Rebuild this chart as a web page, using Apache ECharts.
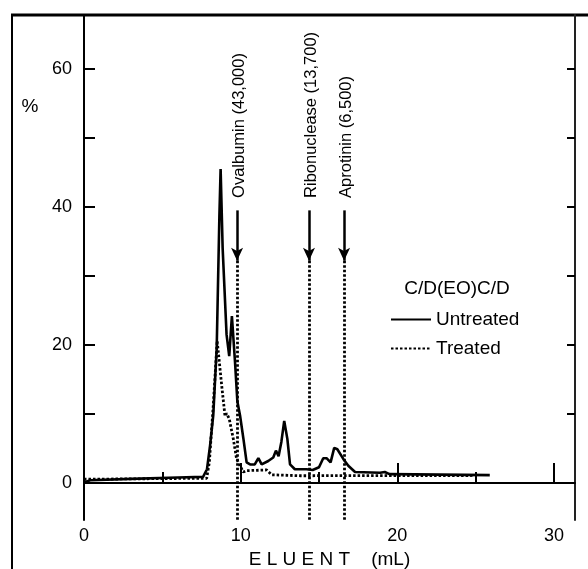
<!DOCTYPE html>
<html>
<head>
<meta charset="utf-8">
<script src="https://cdn.jsdelivr.net/npm/echarts/dist/echarts.min.js"></script>
<style>
  html, body { margin: 0; padding: 0; background: #fff; }
  #elution { width: 588px; height: 569px; }
</style>
</head>
<body>
<div id="elution"></div>
<script>
// 洗脱曲线数据 [mL, %]
var untreated = [
  [0, 0.1], [0.4, 0.4], [3, 0.6], [6, 0.8], [7.6, 0.9], [7.85, 2.0], [8.05, 5.5],
  [8.25, 9.8], [8.47, 19.5], [8.64, 38.5], [8.72, 45.5], [8.85, 34], [9.1, 21.5],
  [9.27, 18.4], [9.44, 24.2], [9.64, 17.5], [9.79, 11.8], [9.96, 9.8], [10.17, 6.5],
  [10.38, 3.0], [10.6, 2.7], [10.9, 2.7], [11.13, 3.6], [11.34, 2.7], [11.76, 3.2],
  [12.08, 3.7], [12.25, 4.7], [12.42, 3.9], [12.6, 6.0], [12.78, 9.0], [12.98, 6.4],
  [13.15, 2.7], [13.46, 2.0], [14.2, 2.0], [14.6, 1.9], [15.0, 2.3], [15.27, 3.6],
  [15.48, 3.6], [15.74, 3.0], [15.97, 5.1], [16.17, 4.9], [16.55, 3.5], [16.87, 2.5],
  [17.3, 1.6], [18.9, 1.5], [19.2, 1.6], [19.5, 1.3], [25.9, 1.15]
];
var treated = [
  [0, 0.55], [7.83, 0.7], [8.0, 3.0], [8.25, 11.2], [8.5, 20.6], [8.79, 14.1],
  [9.0, 9.7], [9.1, 10.1], [9.27, 9.3], [9.53, 6.4], [9.74, 3.5], [9.96, 2.5],
  [10.17, 1.6], [10.38, 1.8], [11.66, 1.9], [11.98, 1.2], [13.8, 1.06], [24.8, 1.1]
];

// 标准蛋白位置
var markerNames = ['Ovalbumin (43,000)', 'Ribonuclease (13,700)', 'Aprotinin (6,500)'];
var markerX = [9.77, 14.36, 16.6];
var arrowTop = 39.5;   // 箭头起点
var arrowTip = 32.2;   // 箭头尖
var labelBase = 41.3;  // 文字底端

// 坐标轴刻度
var xMajorTicks = [10, 20, 30];
var xMinorTicks = [5, 15, 25];
var xLabels = [0, 10, 20, 30];
var yTicks = [0, 10, 20, 30, 40, 50, 60];
var yLabels = [0, 20, 40, 60];
var xMin = 0, xMax = 31.34;
var yMin = -5.35, yMax = 67.8;

var FONT = '"Liberation Sans", Arial, sans-serif';

function buildMarkLines() {
  var data = [];
  for (var i = 0; i < markerX.length; i++) {
    // 实线箭头
    data.push([
      {coord: [markerX[i], arrowTop], symbol: 'none', lineStyle: {type: 'solid', width: 2.5}},
      {coord: [markerX[i], arrowTip], symbol: 'arrow'}
    ]);
    // 虚线
    data.push([
      {coord: [markerX[i], arrowTip], symbol: 'none', lineStyle: {type: [2.5, 2], width: 2.8}},
      {coord: [markerX[i], yMin], symbol: 'none'}
    ]);
  }
  return data;
}

function initChart() {
  var myChart = echarts.init(document.getElementById('elution'));
  var axisLineStyle = {color: '#000', width: 2};

  var options = {
    animation: false,
    textStyle: {fontFamily: FONT, color: '#000'},
    grid: [
      {left: 84, right: 13, top: 15, bottom: 49, outerBoundsMode: 'none', containLabel: false},
      {left: 84, right: 13, top: 15, bottom: 49, outerBoundsMode: 'none', containLabel: false}
    ],
    legend: {
      orient: 'vertical',
      left: 390,
      top: 310,
      padding: 0,
      itemWidth: 40,
      itemHeight: 20,
      itemGap: 10,
      itemStyle: {opacity: 0},
      textStyle: {fontSize: 19, color: '#000', fontFamily: FONT},
      data: ['Untreated', 'Treated']
    },
    xAxis: [
      {
        type: 'value', gridIndex: 0, min: xMin, max: xMax, position: 'bottom',
        name: 'E L U E N T    (mL)', nameLocation: 'middle', nameGap: 30,
        nameTextStyle: {fontSize: 19, color: '#000', fontFamily: FONT},
        axisLine: {lineStyle: axisLineStyle},
        axisTick: {inside: true, length: 20, customValues: xMajorTicks, lineStyle: axisLineStyle},
        axisLabel: {customValues: xLabels, margin: 7, fontSize: 18, color: '#000', fontFamily: FONT},
        splitLine: {show: false}
      },
      {
        type: 'value', gridIndex: 1, min: xMin, max: xMax, position: 'bottom',
        axisLine: {show: false},
        axisTick: {inside: true, length: 11, customValues: xMinorTicks, lineStyle: axisLineStyle},
        axisLabel: {show: false},
        splitLine: {show: false}
      }
    ],
    yAxis: [
      {
        type: 'value', gridIndex: 0, min: yMin, max: yMax, position: 'left',
        axisLine: {show: true, lineStyle: axisLineStyle},
        axisTick: {show: true, inside: true, length: 11, customValues: yTicks, lineStyle: axisLineStyle},
        axisLabel: {customValues: yLabels, margin: 12, fontSize: 18, color: '#000', fontFamily: FONT},
        splitLine: {show: false}
      },
      {
        type: 'value', gridIndex: 0, min: yMin, max: yMax, position: 'right',
        axisLine: {show: true, lineStyle: {color: '#222', width: 2}},
        axisTick: {show: true, inside: true, length: 8, customValues: yTicks, lineStyle: axisLineStyle},
        axisLabel: {show: false},
        splitLine: {show: false}
      },
      {
        type: 'value', gridIndex: 1, min: yMin, max: yMax, show: false
      }
    ],
    series: [
      {
        name: 'Untreated',
        type: 'line',
        xAxisIndex: 0, yAxisIndex: 0,
        data: untreated,
        symbol: 'none',
        lineStyle: {color: '#000', width: 2.6},
        itemStyle: {color: '#000'},
        markLine: {
          silent: true,
          symbol: ['none', 'arrow'],
          symbolSize: [9, 13],
          label: {show: false},
          lineStyle: {color: '#000'},
          data: buildMarkLines()
        }
      },
      {
        name: 'Treated',
        type: 'line',
        xAxisIndex: 0, yAxisIndex: 0,
        data: treated,
        symbol: 'none',
        lineStyle: {color: '#000', width: 2.8, type: [2.5, 2]},
        itemStyle: {color: '#000'}
      }
    ]
  };
  myChart.setOption(options);

  // 外框、标注文字
  var graphics = [
    {type: 'line', shape: {x1: 11, y1: 15, x2: 588, y2: 15}, style: {stroke: '#000', lineWidth: 3}},
    {type: 'line', shape: {x1: 12, y1: 14, x2: 12, y2: 569}, style: {stroke: '#000', lineWidth: 2}},
    {type: 'text', x: 30, y: 107, style: {text: '%', font: '19px ' + FONT, fill: '#000', textAlign: 'center', textVerticalAlign: 'middle'}},
    {type: 'text', x: 457, y: 289, style: {text: 'C/D(EO)C/D', font: '19px ' + FONT, fill: '#000', textAlign: 'center', textVerticalAlign: 'middle'}}
  ];
  for (var i = 0; i < markerX.length; i++) {
    var p = myChart.convertToPixel({xAxisIndex: 0, yAxisIndex: 0}, [markerX[i], labelBase]);
    graphics.push({
      type: 'text', x: p[0] + 2, y: p[1], rotation: Math.PI / 2,
      style: {text: markerNames[i], font: '16.5px ' + FONT, fill: '#000', textAlign: 'left', textVerticalAlign: 'middle'}
    });
  }
  myChart.setOption({graphic: graphics});
}

initChart();
</script>
</body>
</html>
